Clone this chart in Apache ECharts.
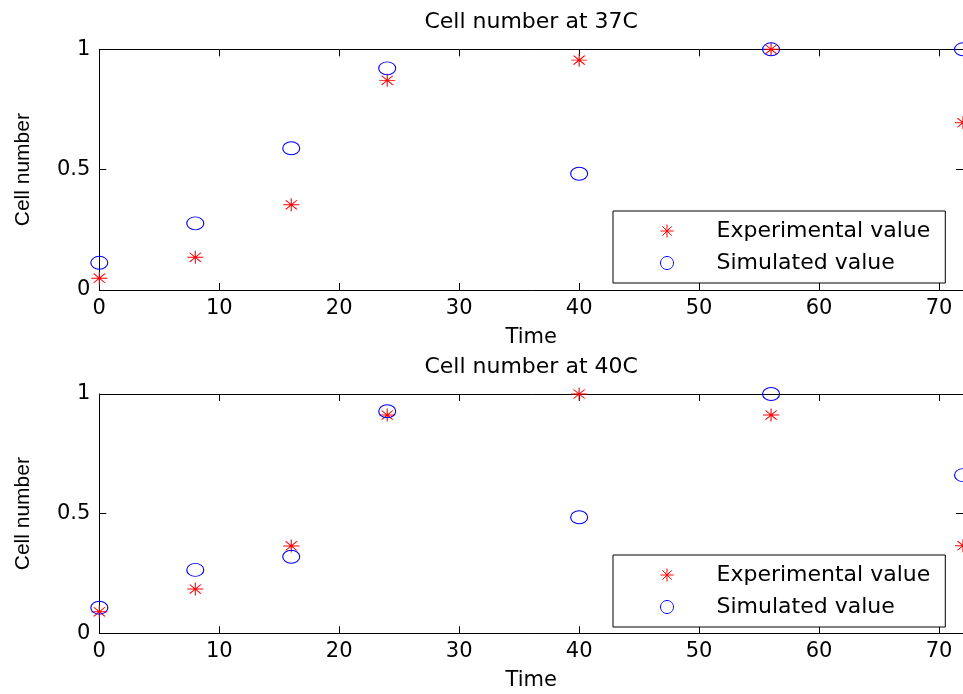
<!DOCTYPE html>
<html>
<head>
<meta charset="utf-8">
<script src="https://cdn.jsdelivr.net/npm/echarts@6/dist/echarts.min.js"></script>
<style>
html,body{margin:0;padding:0;background:#fff;}
#chart{width:963px;height:694px;}
</style>
</head>
<body>
<div id="chart"></div>
<script>
// ---- data ----
var time = [0, 8, 16, 24, 40, 56, 72];
var exp37 = [0.049, 0.136, 0.354, 0.871, 0.955, 1.0, 0.695];
var sim37 = [0.113, 0.277, 0.589, 0.921, 0.483, 1.0, 1.0];
var exp40 = [0.090, 0.185, 0.365, 0.912, 1.0, 0.912, 0.366];
var sim40 = [0.107, 0.265, 0.320, 0.928, 0.485, 1.0, 0.661];
var titles = ['Cell number at 37C', 'Cell number at 40C'];
var seriesNames = ['Experimental value', 'Simulated value'];
var xTitle = 'Time';
var yTitle = 'Cell number';

function pairs(xs, ys) { return xs.map(function (x, i) { return [x, ys[i]]; }); }

var FONT = 'DejaVu Sans';
var STAR = 'path://M0,-1L0,1M-1,0L1,0M-0.7,-0.7L0.7,0.7M-0.7,0.7L0.7,-0.7';
var ELLIPSE = 'path://M-1,0C-1,-0.552,-0.552,-1,0,-1C0.552,-1,1,-0.552,1,0C1,0.552,0.552,1,0,1C-0.552,1,-1,0.552,-1,0Z';

var grids = [
  { left: 99.3, width: 867.5, top: 49.3, height: 240.7 },
  { left: 99.3, width: 867.5, top: 394, height: 239.3 }
];

var xAxes = [], yAxes = [], series = [], legends = [];
var legendTops = [211, 555];
var dataSets = [[exp37, sim37], [exp40, sim40]];

grids.forEach(function (g, gi) {
  var axisLine = { show: true, onZero: false, lineStyle: { color: '#000', width: 1 } };
  var tick = { show: true, inside: true, length: 7, lineStyle: { color: '#000' } };
  xAxes.push({
    type: 'value', gridIndex: gi, position: 'bottom', min: 0, max: 72, interval: 10,
    axisLine: axisLine, axisTick: tick, splitLine: { show: false },
    axisLabel: { show: true, margin: 8, color: '#000', fontFamily: FONT, fontSize: 21, showMaxLabel: false },
    name: xTitle, nameLocation: 'middle', nameGap: 37,
    nameTextStyle: { color: '#000', fontFamily: FONT, fontSize: 21 }
  });
  xAxes.push({
    type: 'value', gridIndex: gi, position: 'top', min: 0, max: 72, interval: 10,
    axisLine: axisLine, axisTick: tick, splitLine: { show: false },
    axisLabel: { show: false },
    name: titles[gi], nameLocation: 'middle', nameGap: 16,
    nameTextStyle: { color: '#000', fontFamily: FONT, fontSize: 22 }
  });
  yAxes.push({
    type: 'value', gridIndex: gi, position: 'left', min: 0, max: 1, interval: 0.5,
    axisLine: axisLine, axisTick: tick, splitLine: { show: false },
    axisLabel: { show: true, margin: 9, color: '#000', fontFamily: FONT, fontSize: 21 },
    name: yTitle, nameLocation: 'middle', nameGap: 66, nameRotate: 90,
    nameTextStyle: { color: '#000', fontFamily: 'Liberation Sans', fontSize: 21 }
  });
  yAxes.push({
    type: 'value', gridIndex: gi, position: 'right', min: 0, max: 1, interval: 0.5,
    axisLine: axisLine, axisTick: tick, splitLine: { show: false },
    axisLabel: { show: false }
  });
  var ds = dataSets[gi];
  series.push({
    name: seriesNames[0], type: 'scatter', xAxisIndex: gi * 2, yAxisIndex: gi * 2,
    data: pairs(time, ds[0]), symbol: STAR, symbolSize: [16, 13], clip: false,
    itemStyle: { color: 'rgba(0,0,0,0)', borderColor: '#ff0000', borderWidth: 1, opacity: 1 },
    emphasis: { disabled: true }
  });
  series.push({
    name: seriesNames[1], type: 'scatter', xAxisIndex: gi * 2, yAxisIndex: gi * 2,
    data: pairs(time, ds[1]), symbol: ELLIPSE, symbolSize: [17, 13], clip: false,
    itemStyle: { color: 'rgba(0,0,0,0)', borderColor: '#0000ff', borderWidth: 1, opacity: 1 },
    emphasis: { disabled: true }
  });
  legends.push({
    show: true, orient: 'vertical', left: 613, top: legendTops[gi],
    data: seriesNames,
    padding: [9, 15, 9, 47], itemGap: 10, itemWidth: 17, itemHeight: 13,
    backgroundColor: '#fff', borderColor: '#000', borderWidth: 1,
    itemStyle: { borderWidth: 1 },
    selectedMode: false,
    textStyle: { color: '#000', fontFamily: FONT, fontSize: 22, padding: [0, 0, 0, 36] }
  });
});

var chart = echarts.init(document.getElementById('chart'), null, { renderer: 'canvas' });
chart.setOption({
  backgroundColor: '#fff',
  animation: false,
  grid: grids,
  xAxis: xAxes,
  yAxis: yAxes,
  legend: legends,
  series: series
});
</script>
</body>
</html>
